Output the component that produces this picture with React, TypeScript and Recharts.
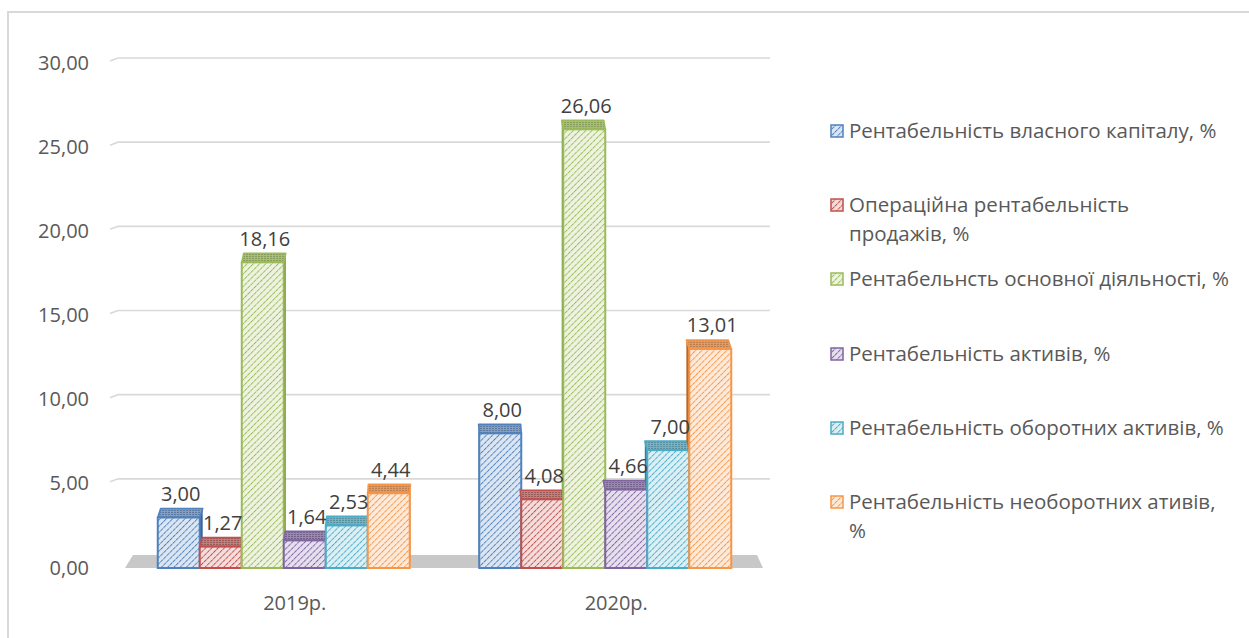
import React from 'react';
import { BarChart, Bar, XAxis, YAxis, CartesianGrid, LabelList } from 'recharts';

const years = ['2019р.', '2020р.'];

const seriesNames = [
  'Рентабельність власного капіталу, %',
  'Операційна рентабельність\nпродажів, %',
  'Рентабельнсть основної діяльності, %',
  'Рентабельність активів, %',
  'Рентабельність оборотних активів, %',
  'Рентабельність необоротних ативів,\n%',
];

const equityReturn = [3.0, 8.0];
const operatingMargin = [1.27, 4.08];
const coreActivityReturn = [18.16, 26.06];
const assetsReturn = [1.64, 4.66];
const currentAssetsReturn = [2.53, 7.0];
const nonCurrentAssetsReturn = [4.44, 13.01];

const yTicks = [0, 5, 10, 15, 20, 25, 30];

const seriesValues = [
  equityReturn,
  operatingMargin,
  coreActivityReturn,
  assetsReturn,
  currentAssetsReturn,
  nonCurrentAssetsReturn,
];

const seriesKeys = ['s0', 's1', 's2', 's3', 's4', 's5'];

const palette = [
  { main: '#4F81BD', light: '#dce6f2', top: '#8a9dba', side: '#3b6395' },
  { main: '#C0504D', light: '#f4dedd', top: '#b08583', side: '#933b39' },
  { main: '#9BBB59', light: '#eef3e1', top: '#a9bb82', side: '#6f8a3b' },
  { main: '#8064A2', light: '#e6e0ee', top: '#978aab', side: '#5d4879' },
  { main: '#4BACC6', light: '#dbeff5', top: '#82adba', side: '#347f94' },
  { main: '#F79646', light: '#fdeadb', top: '#d29d75', side: '#b8682a' },
];

const data = years.map((year, i) => {
  const row: Record<string, string | number> = { year };
  seriesKeys.forEach((k, s) => {
    row[k] = seriesValues[s][i];
  });
  return row;
});

const FONT = "'Open Sans', 'DejaVu Sans', sans-serif";
const VANISH_X = 445;
const PERSPECTIVE = 0.011;
const TOP_DEPTH = 9;

const fmt = (v: number) => v.toFixed(2).replace('.', ',');

const Patterns = ({ prefix }: { prefix: string }) => (
  <defs>
    {palette.map((p, i) => (
      <React.Fragment key={i}>
        <pattern
          id={`${prefix}-front-${i}`}
          width="4.4"
          height="4.4"
          patternUnits="userSpaceOnUse"
          patternTransform="rotate(45)"
        >
          <rect width="4.4" height="4.4" fill={p.light} />
          <line x1="0" y1="0" x2="0" y2="4.4" stroke={p.main} strokeWidth="1.9" strokeDasharray="2.4 0.6" />
        </pattern>
        <pattern id={`${prefix}-top-${i}`} width="3" height="2" patternUnits="userSpaceOnUse">
          <rect width="3" height="2" fill={p.top} />
          <rect width="2" height="1" fill={p.side} opacity="0.6" />
        </pattern>
      </React.Fragment>
    ))}
  </defs>
);

// 3D column: hatched front, shaded top and a thin side face
const makeBarShape = (s: number) => (props: any) => {
  const x = Number(props.x);
  const y = Number(props.y);
  const width = Number(props.width);
  const height = Number(props.height);
  const index = Number(props.index);
  const pal = palette[s];
  const value = seriesValues[s][index];
  const base = y + height;
  const cx = x + width / 2;
  const dx = (VANISH_X - cx) * PERSPECTIVE;
  const dy = TOP_DEPTH;

  let side = null;
  const neighbour = dx > 0 ? s + 1 : s - 1;
  const edgeX = dx > 0 ? x + width : x;
  let yEnd = base;
  if (neighbour >= 0 && neighbour < seriesValues.length && value > 0) {
    const nTop = base - (height * seriesValues[neighbour][index]) / value;
    yEnd = Math.max(y, Math.min(base, nTop));
  }
  if (yEnd > y) {
    side = (
      <polygon
        points={`${edgeX},${y} ${edgeX + dx},${y - dy} ${edgeX + dx},${yEnd - dy} ${edgeX},${yEnd}`}
        fill={pal.side}
      />
    );
  }

  return (
    <g>
      {side}
      <polygon
        points={`${x},${y} ${x + width},${y} ${x + width + dx},${y - dy} ${x + dx},${y - dy}`}
        fill={`url(#chart-top-${s})`}
        stroke={pal.main}
        strokeWidth={1.6}
        strokeLinejoin="round"
      />
      <rect
        x={x}
        y={y}
        width={width}
        height={height}
        fill={`url(#chart-front-${s})`}
        stroke={pal.main}
        strokeWidth={2}
      />
    </g>
  );
};

const ValueLabel = (props: any) => {
  const x = Number(props.x);
  const y = Number(props.y);
  const width = Number(props.width);
  return (
    <text
      x={x + width / 2 + 2}
      y={y - 24}
      textAnchor="middle"
      dominantBaseline="central"
      fill="#404040"
      fontSize={20}
      fontFamily={FONT}
    >
      {fmt(Number(props.value))}
    </text>
  );
};

const YTick = (props: any) => (
  <text
    x={props.x - 35}
    y={props.y - 1}
    textAnchor="end"
    dominantBaseline="central"
    fill="#595959"
    fontSize={20}
    fontFamily={FONT}
  >
    {fmt(Number(props.payload.value))}
  </text>
);

const XTick = (props: any) => (
  <text
    x={props.x + 10}
    y={props.y + 34}
    textAnchor="middle"
    dominantBaseline="central"
    fill="#595959"
    fontSize={20}
    fontFamily={FONT}
  >
    {props.payload.value}
  </text>
);

// back-wall gridlines with a short slant on the side wall; the zero line becomes the floor
const GridLine = (props: any) => {
  const { x1, x2, y1 } = props;
  if (y1 >= 566) {
    return (
      <polygon
        key={props.key}
        points={`${x1 + 1},${y1} ${x2 - 4},${y1} ${x2 - 10},${y1 - 13} ${x1 + 9},${y1 - 13}`}
        fill="#c8c8c8"
      />
    );
  }
  return (
    <path
      key={props.key}
      d={`M${x1 - 14},${y1 - 2} L${x1 - 6},${y1 - 5} L${x2 + 3},${y1 - 5}`}
      fill="none"
      stroke="#d9d9d9"
      strokeWidth={1.6}
    />
  );
};

const LegendBlock = () => (
  <div style={{ position: 'absolute', left: 0, top: 0 }}>
    {seriesNames.map((name, i) => {
      const center = 130.7 + i * 74.3;
      return (
        <div key={i}>
          <svg
            width={14}
            height={14}
            style={{ position: 'absolute', left: 830, top: center - 7 }}
          >
            <Patterns prefix={`lg${i}`} />
            <rect x={1} y={1} width={12} height={12} fill={`url(#lg${i}-front-${i})`} stroke={palette[i].main} strokeWidth={1.5} />
          </svg>
          <div
            style={{
              position: 'absolute',
              left: 849,
              top: center - 15,
              fontSize: 20.5,
              lineHeight: '29px',
              color: '#595959',
              fontFamily: FONT,
              whiteSpace: 'pre',
            }}
          >
            {name}
          </div>
        </div>
      );
    })}
  </div>
);

export default function App() {
  return (
    <div
      style={{
        position: 'absolute',
        left: 0,
        top: 0,
        width: 1249,
        height: 638,
        overflow: 'hidden',
        background: '#ffffff',
      }}
    >
      <div
        style={{
          position: 'absolute',
          left: 7,
          top: 11,
          width: 1400,
          height: 800,
          border: '2px solid #d9d9d9',
          boxSizing: 'border-box',
        }}
      />
      <div style={{ position: 'absolute', left: 0, top: 0 }}>
        <BarChart
          width={1249}
          height={638}
          data={data}
          margin={{ top: 63, right: 482, bottom: 40, left: 0 }}
          barGap={0}
          barCategoryGap="10.5%"
        >
          <Patterns prefix="chart" />
          <CartesianGrid vertical={false} horizontal={GridLine} />
          <XAxis
            dataKey="year"
            axisLine={false}
            tickLine={false}
            tickSize={0}
            tickMargin={0}
            height={30}
            tick={XTick}
          />
          <YAxis
            domain={[0, 30]}
            ticks={yTicks}
            axisLine={false}
            tickLine={false}
            tickSize={0}
            tickMargin={0}
            width={124}
            tick={YTick}
            interval={0}
          />
          {seriesKeys.map((k, s) => (
            <Bar key={k} dataKey={k} name={seriesNames[s]} shape={makeBarShape(s)} isAnimationActive={false}>
              <LabelList dataKey={k} content={ValueLabel} />
            </Bar>
          ))}
        </BarChart>
      </div>
      <LegendBlock />
    </div>
  );
}
